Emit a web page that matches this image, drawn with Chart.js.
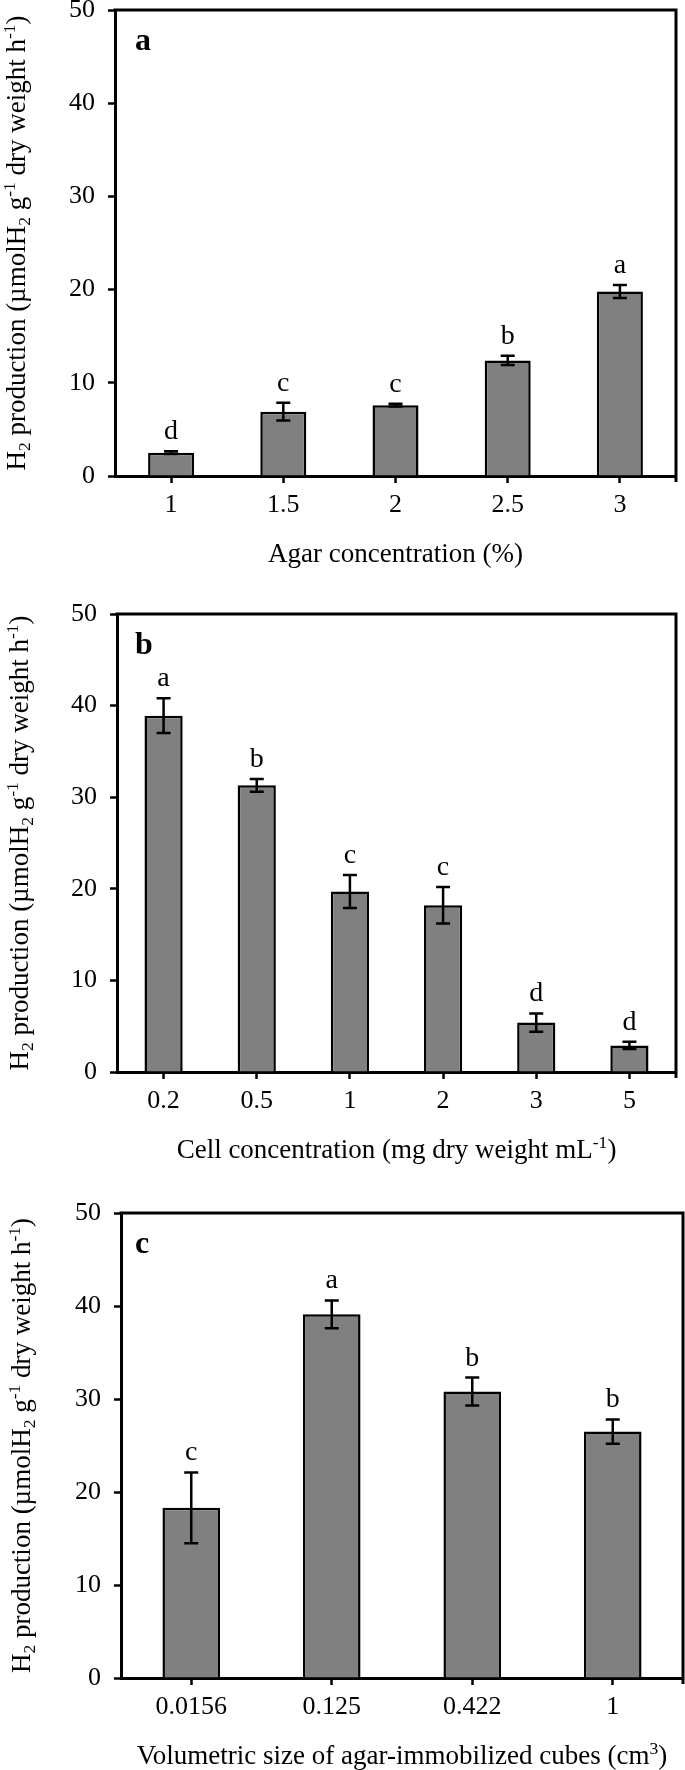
<!DOCTYPE html>
<html>
<head>
<meta charset="utf-8">
<script src="https://cdn.jsdelivr.net/npm/chart.js@4.4.1/dist/chart.umd.min.js"></script>
<style>
  html, body { margin: 0; padding: 0; background: #fff; }
  #wrap { position: relative; width: 685px; height: 1770px; }
  canvas { position: absolute; left: 0; }
</style>
</head>
<body>
<div id="wrap">
  <canvas id="chartA" width="685" height="580" style="top:0"></canvas>
  <canvas id="chartB" width="685" height="590" style="top:580px"></canvas>
  <canvas id="chartC" width="685" height="600" style="top:1170px"></canvas>
</div>
<script>
// panel a: agar concentration
const agarLabels = ["1", "1.5", "2", "2.5", "3"];
const agarValues = [2.5, 6.9, 7.6, 12.4, 19.8];
const agarErrors = [0.15, 0.95, 0.15, 0.5, 0.7];
const agarLetters = ["d", "c", "c", "b", "a"];

// panel b: cell concentration
const cellLabels = ["0.2", "0.5", "1", "2", "3", "5"];
const cellValues = [38.9, 31.3, 19.7, 18.2, 5.4, 2.9];
const cellErrors = [1.9, 0.7, 1.8, 2.0, 1.0, 0.4];
const cellLetters = ["a", "b", "c", "c", "d", "d"];

// panel c: cube size
const cubeLabels = ["0.0156", "0.125", "0.422", "1"];
const cubeValues = [18.3, 39.1, 30.8, 26.5];
const cubeErrors = [3.8, 1.5, 1.5, 1.3];
const cubeLetters = ["c", "a", "b", "b"];

const yMin = 0, yMax = 50, yStep = 10;

const SERIF = '"Liberation Serif", "Times New Roman", serif';

const yTitle = [
  { t: "H" }, { t: "2", s: "sub" }, { t: " production (\u00b5molH" }, { t: "2", s: "sub" },
  { t: " g" }, { t: "-1", s: "sup" }, { t: " dry weight h" }, { t: "-1", s: "sup" }, { t: ")" }
];

// draw text with sub/superscript pieces
function drawRich(ctx, parts, x, y, size) {
  const widths = parts.map((p) => {
    ctx.font = `${p.s ? size * 0.65 : size}px ${SERIF}`;
    return ctx.measureText(p.t).width;
  });
  let cx = x - widths.reduce((a, b) => a + b, 0) / 2;
  parts.forEach((p, i) => {
    ctx.font = `${p.s ? size * 0.65 : size}px ${SERIF}`;
    const dy = p.s === "sub" ? size * 0.2 : p.s === "sup" ? -size * 0.38 : 0;
    ctx.fillText(p.t, cx, y + dy);
    cx += widths[i];
  });
}

const panelDecor = {
  id: "panelDecor",
  afterDatasetsDraw(chart, args, opts) {
    const { ctx, chartArea: a, scales: { y } } = chart;
    const meta = chart.getDatasetMeta(0);
    const vals = chart.data.datasets[0].data;
    ctx.save();
    ctx.strokeStyle = "#000";
    ctx.fillStyle = "#000";
    ctx.lineWidth = 2.5;
    ctx.textAlign = "center";
    ctx.textBaseline = "alphabetic";
    meta.data.forEach((bar, i) => {
      const yt = y.getPixelForValue(vals[i] + opts.errors[i]);
      const yb = y.getPixelForValue(vals[i] - opts.errors[i]);
      ctx.beginPath();
      ctx.moveTo(bar.x, yt); ctx.lineTo(bar.x, yb);
      ctx.moveTo(bar.x - 7, yt); ctx.lineTo(bar.x + 7, yt);
      ctx.moveTo(bar.x - 7, yb); ctx.lineTo(bar.x + 7, yb);
      ctx.stroke();
      ctx.font = `28px ${SERIF}`;
      ctx.fillText(opts.letters[i], bar.x, yt - 12);
    });

    // top and right frame
    ctx.lineWidth = 3;
    ctx.beginPath();
    ctx.moveTo(a.left - 1.5, a.top);
    ctx.lineTo(a.right, a.top);
    ctx.lineTo(a.right, a.bottom + 6);
    ctx.stroke();

    // panel tag
    ctx.textAlign = "left";
    ctx.font = `bold 32px ${SERIF}`;
    ctx.fillText(opts.tag, 135, a.top + 40);

    // axis titles
    drawRich(ctx, opts.xTitle, (a.left + a.right) / 2, a.bottom + 86, 27);
    ctx.translate(opts.yTitleX, (a.top + a.bottom) / 2);
    ctx.rotate(-Math.PI / 2);
    drawRich(ctx, yTitle, 0, 0, 27);
    ctx.restore();
  }
};

function makeChart(id, labels, values, opts) {
  const canvas = document.getElementById(id);
  const H = canvas.height;
  const area = opts.area;
  return new Chart(canvas, {
    type: "bar",
    data: {
      labels: labels,
      datasets: [{
        data: values,
        backgroundColor: "#808080",
        borderColor: "#000",
        borderWidth: 2.5,
        barPercentage: 0.41,
        categoryPercentage: 1
      }]
    },
    options: {
      responsive: false,
      animation: false,
      layout: { padding: { top: area.top, right: 685 - area.right, left: 0, bottom: 0 } },
      plugins: {
        legend: { display: false },
        tooltip: { enabled: false },
        panelDecor: opts
      },
      scales: {
        x: {
          grid: { drawOnChartArea: false, offset: false, tickLength: 7, tickWidth: 2.5, tickColor: "#000" },
          border: { color: "#000", width: 3 },
          ticks: { color: "#000", font: { family: SERIF, size: 26 }, padding: 7, maxRotation: 0 },
          afterFit: (s) => { s.height = H - area.bottom; s.paddingLeft = 0; s.paddingRight = 0; }
        },
        y: {
          min: yMin,
          max: yMax,
          ticks: { stepSize: yStep, color: "#000", font: { family: SERIF, size: 26 }, padding: 13 },
          grid: { drawOnChartArea: false, tickLength: 7, tickWidth: 2.5, tickColor: "#000" },
          border: { color: "#000", width: 3 },
          afterFit: (s) => { s.width = area.left; s.paddingTop = 0; s.paddingBottom = 0; }
        }
      }
    },
    plugins: [panelDecor]
  });
}

makeChart("chartA", agarLabels, agarValues, {
  area: { left: 115, right: 676, top: 10, bottom: 476 },
  errors: agarErrors, letters: agarLetters, tag: "a", yTitleX: 25,
  xTitle: [{ t: "Agar concentration (%)" }]
});

makeChart("chartB", cellLabels, cellValues, {
  area: { left: 117, right: 676, top: 34, bottom: 492 },
  errors: cellErrors, letters: cellLetters, tag: "b", yTitleX: 28,
  xTitle: [{ t: "Cell concentration (mg dry weight mL" }, { t: "-1", s: "sup" }, { t: ")" }]
});

makeChart("chartC", cubeLabels, cubeValues, {
  area: { left: 121, right: 683, top: 43, bottom: 508 },
  errors: cubeErrors, letters: cubeLetters, tag: "c", yTitleX: 30,
  xTitle: [{ t: "Volumetric size of agar-immobilized cubes (cm" }, { t: "3", s: "sup" }, { t: ")" }]
});
</script>
</body>
</html>
